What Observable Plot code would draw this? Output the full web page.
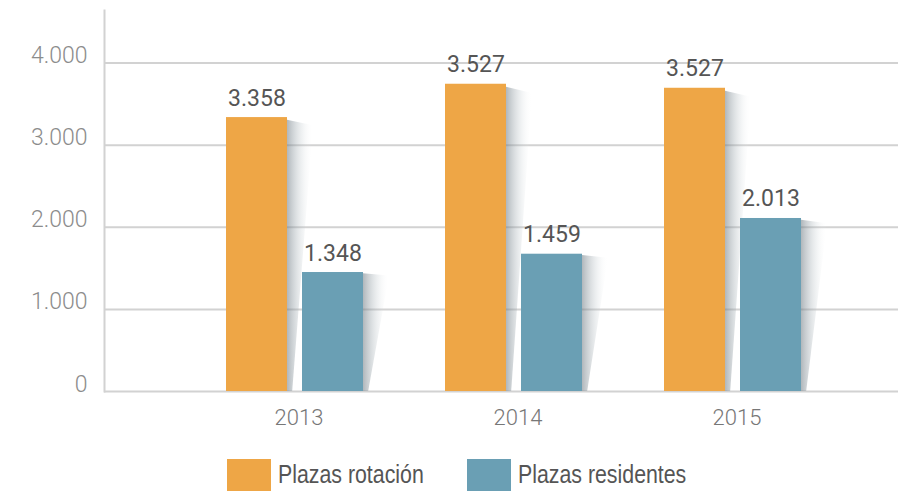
<!DOCTYPE html>
<html><head><meta charset="utf-8">
<script src="https://cdn.jsdelivr.net/npm/d3@7"></script>
<script src="https://cdn.jsdelivr.net/npm/@observablehq/plot@0.6"></script>
<style>
body{margin:0;background:#fff;}
#legend{display:flex;height:39px;padding-left:227px;font-family:"Liberation Sans",sans-serif;font-size:26px;color:#555;overflow:hidden;}
.item{display:flex;align-items:flex-start;margin-top:7px;}
.item1{width:240px;flex:none;}
.sw{width:44px;height:34px;margin-right:7px;flex:none;}
.item span{display:inline-block;line-height:30px;white-space:nowrap;transform:scaleX(0.82);transform-origin:0 50%;}
</style></head><body>
<div id="chart"></div>
<div id="legend"></div>
<script>
const years = ["2013", "2014", "2015"];
const seriesNames = ["Plazas rotación", "Plazas residentes"];
const rotacionBars = [3336, 3742, 3693];      // bar heights as drawn
const residentesBars = [1449, 1672, 2107];
const rotacionLabels = [3358, 3527, 3527];    // printed values
const residentesLabels = [1348, 1459, 2013];
const yTicks = [0, 1000, 2000, 3000, 4000];
const colors = ["#eea646", "#6a9fb4"];

const fmt = d3.formatLocale({decimal: ",", thousands: ".", grouping: [3], currency: ["", "€"]}).format(",d");

const rot = years.map((y, i) => ({year: y, value: rotacionBars[i], label: rotacionLabels[i]}));
const res = years.map((y, i) => ({year: y, value: residentesBars[i], label: residentesLabels[i]}));

const chart = Plot.plot({
  width: 898,
  height: 452,
  marginLeft: 104,
  marginRight: 0,
  marginTop: 10,
  marginBottom: 61,
  style: {fontFamily: "Roboto", background: "#fff"},
  x: {domain: years, range: [185, 842], padding: 0, label: null},
  y: {domain: [0, 4640], label: null},
  marks: [
    Plot.ruleY(yTicks, {stroke: "#d2d2d2", strokeWidth: 2}),
    Plot.frame({anchor: "left", stroke: "#d2d2d2", strokeWidth: 2}),
    // shadows
    Plot.barY(rot, {x: "year", y: "value", fill: "url(#sh)", insetLeft: 102, insetRight: 91}),
    Plot.barY(res, {x: "year", y: "value", fill: "url(#sh)", insetLeft: 178, insetRight: 15}),
    // bars
    Plot.barY(rot, {x: "year", y: "value", fill: colors[0], insetLeft: 41, insetRight: 117}),
    Plot.barY(res, {x: "year", y: "value", fill: colors[1], insetLeft: 117, insetRight: 41}),
    Plot.text(rot, {x: "year", y: "value", text: d => fmt(d.label), dx: -38, dy: -12, lineAnchor: "bottom", fontSize: 23, fill: "#555", fontFamily: "Roboto"}),
    Plot.text(res, {x: "year", y: "value", text: d => fmt(d.label), dx: 38, dy: -12, lineAnchor: "bottom", fontSize: 23, fill: "#555", fontFamily: "Roboto"}),
    Plot.axisY({ticks: yTicks, tickSize: 0, tickPadding: 17, tickFormat: fmt, fontSize: 23, lineAnchor: "bottom", fill: "#8c8c8c", fontWeight: 300, label: null}),
    Plot.axisX({tickSize: 0, tickPadding: 18, fontSize: 22, fill: "#777", fontWeight: 300, dx: 4, label: null})
  ]
});
document.getElementById("chart").appendChild(chart);

const svg = d3.select(chart);
const defs = svg.insert("defs", ":first-child");
const g = defs.append("linearGradient").attr("id", "sh").attr("x1", 0).attr("x2", 1).attr("y1", 0).attr("y2", 0);
g.append("stop").attr("offset", 0).attr("stop-color", "#707c84").attr("stop-opacity", 0.55);
g.append("stop").attr("offset", 0.6).attr("stop-color", "#b9c3c8").attr("stop-opacity", 0.2);
g.append("stop").attr("offset", 1).attr("stop-color", "#ffffff").attr("stop-opacity", 0);
defs.append("clipPath").attr("id", "trap").attr("clipPathUnits", "objectBoundingBox")
  .append("polygon").attr("points", "0,0.01 1,0.03 0.2,1 0,1");
svg.selectAll('g[fill="url(#sh)"] rect').attr("clip-path", "url(#trap)");

const legend = d3.select("#legend");
seriesNames.forEach((name, i) => {
  const item = legend.append("div").attr("class", "item item" + (i + 1));
  item.append("div").attr("class", "sw").style("background", colors[i]);
  item.append("span").text(name);
});
</script>
</body></html>
